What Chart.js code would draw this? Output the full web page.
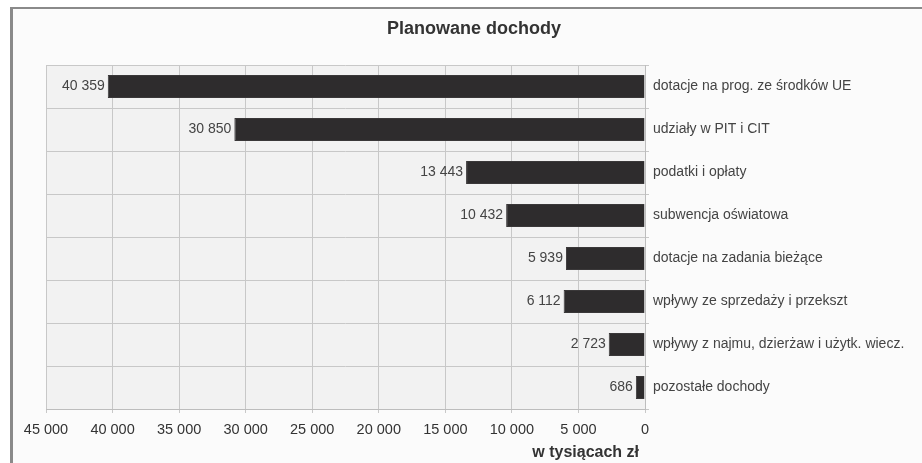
<!DOCTYPE html>
<html>
<head>
<meta charset="utf-8">
<script src="https://cdn.jsdelivr.net/npm/chart.js@4/dist/chart.umd.min.js"></script>
<style>
  html, body { margin: 0; padding: 0; background: #ffffff; }
  #wrap { position: relative; width: 922px; height: 463px; overflow: hidden; }
  #frame { position: absolute; left: 10px; top: 7px; right: 0; bottom: 0;
           border-left: 3px solid #8a8a8a; border-top: 2px solid #8a8a8a; background: #fbfbfb; }
  #c { position: absolute; left: 0; top: 0; }
</style>
</head>
<body>
<div id="wrap">
  <div id="frame"></div>
  <canvas id="c" width="922" height="463"></canvas>
</div>
<script>
const categories = [
  "dotacje na prog. ze środków UE",
  "udziały w PIT i CIT",
  "podatki i opłaty",
  "subwencja oświatowa",
  "dotacje na zadania bieżące",
  "wpływy ze sprzedaży i przekszt",
  "wpływy z najmu, dzierżaw i użytk. wiecz.",
  "pozostałe dochody"
];
const values = [40359, 30850, 13443, 10432, 5939, 6112, 2723, 686];
const chartTitle = "Planowane dochody";
const xAxisTitle = "w tysiącach zł";
const xMin = 0, xMax = 45000, xStep = 5000;

const FONT = "'Liberation Sans', Arial, Helvetica, sans-serif";
const fmt = v => String(Math.round(v)).replace(/\B(?=(\d{3})+(?!\d))/g, " ");

const plotBg = {
  id: 'plotBg',
  beforeDraw(chart) {
    const {ctx, chartArea: a} = chart;
    ctx.save();
    ctx.fillStyle = '#f2f2f2';
    ctx.fillRect(a.left, a.top, a.right - a.left, a.bottom - a.top);
    ctx.restore();
  }
};

const texts = {
  id: 'texts',
  afterDraw(chart) {
    const {ctx, chartArea: a} = chart;
    ctx.save();
    ctx.fillStyle = '#333333';
    ctx.textBaseline = 'middle';
    ctx.font = "bold 18px " + FONT;
    ctx.textAlign = 'center';
    ctx.fillText(chartTitle, 474, 29);
    ctx.font = "bold 16px " + FONT;
    ctx.textAlign = 'right';
    ctx.fillText(xAxisTitle, a.right - 6, 453);
    ctx.restore();
  }
};

const valueLabels = {
  id: 'valueLabels',
  afterDatasetsDraw(chart) {
    const {ctx} = chart;
    const meta = chart.getDatasetMeta(0);
    ctx.save();
    ctx.font = "14px " + FONT;
    ctx.fillStyle = '#444444';
    ctx.textAlign = 'right';
    ctx.textBaseline = 'middle';
    meta.data.forEach((bar, i) => {
      const left = Math.min(bar.x, bar.base);
      ctx.fillText(fmt(values[i]), left - 3, bar.y);
    });
    ctx.restore();
  }
};

new Chart(document.getElementById('c'), {
  type: 'bar',
  data: {
    labels: categories,
    datasets: [{
      data: values,
      backgroundColor: '#2e2c2d',
      borderColor: '#3a3839',
      borderWidth: 1,
      categoryPercentage: 1,
      barPercentage: 0.54
    }]
  },
  options: {
    indexAxis: 'y',
    responsive: false,
    animation: false,
    devicePixelRatio: 1,
    layout: { padding: { left: 46, right: 0, top: 65, bottom: 0 } },
    plugins: {
      legend: { display: false },
      tooltip: { enabled: false },
      title: { display: false }
    },
    scales: {
      x: {
        reverse: true,
        min: xMin,
        max: xMax,
        ticks: {
          stepSize: xStep,
          color: '#333333',
          font: { family: FONT, size: 14.5 },
          padding: 8,
          maxRotation: 0,
          callback: v => fmt(v)
        },
        grid: { color: '#c8c8c8', lineWidth: 1, tickLength: 4, drawTicks: true },
        border: { color: '#bdbdbd' },
        afterFit(scale) { scale.height = 54; }
      },
      y: {
        position: 'right',
        ticks: {
          color: '#444444',
          font: { family: FONT, size: 14 },
          padding: 4
        },
        grid: { color: '#c8c8c8', lineWidth: 1, tickLength: 4, offset: true },
        border: { color: '#bdbdbd' },
        afterFit(scale) { scale.width = 277; }
      }
    }
  },
  plugins: [plotBg, valueLabels, texts]
});
</script>
</body>
</html>
